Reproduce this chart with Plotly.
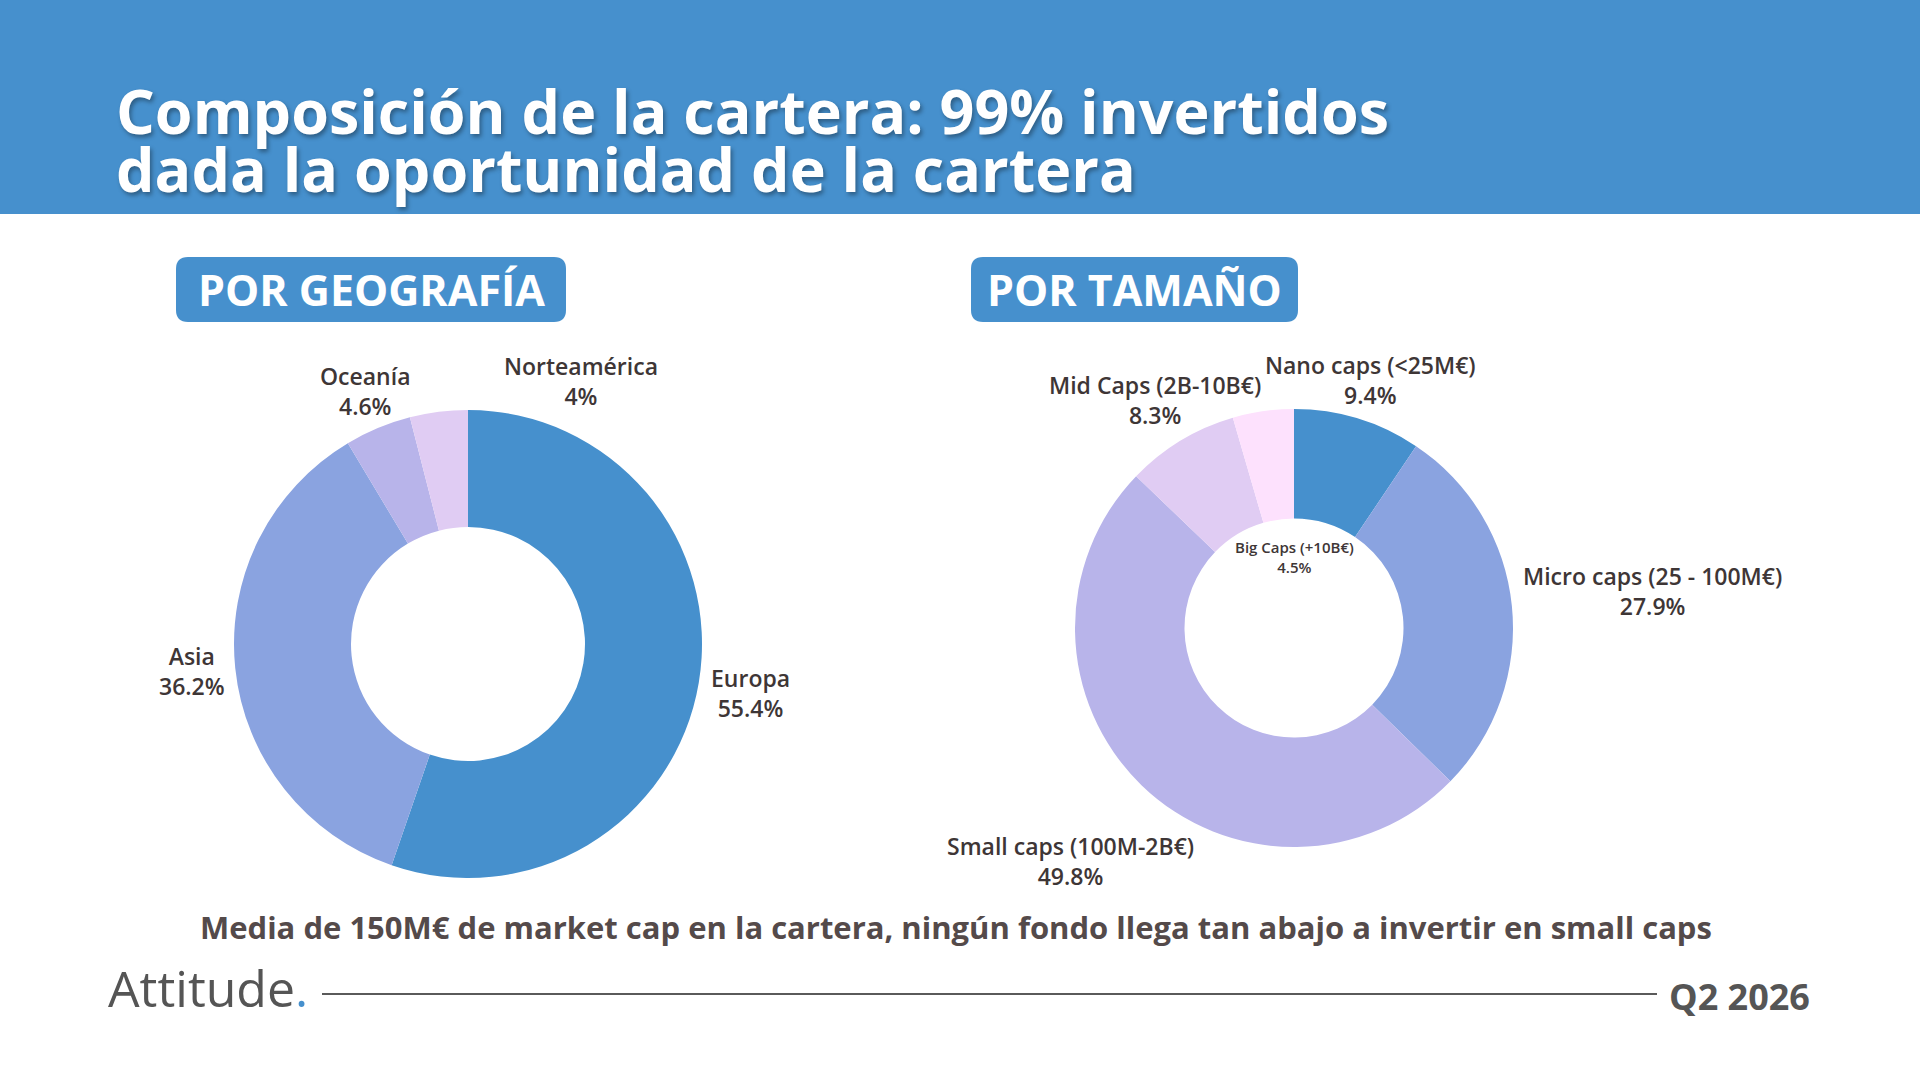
import plotly.graph_objects as go

# ---------------- data ----------------
geo_labels = ["Europa", "Asia", "Oceanía", "Norteamérica"]
geo_values = [55.4, 36.2, 4.6, 4.0]

size_labels = ["Nano caps (<25M€)", "Micro caps (25 - 100M€)", "Small caps (100M-2B€)",
               "Mid Caps (2B-10B€)", "Big Caps (+10B€)"]
size_values = [9.4, 27.9, 49.8, 8.3, 4.5]

title_lines = ["Composición de la cartera: 99% invertidos", "dada la oportunidad de la cartera"]
section_titles = ["POR GEOGRAFÍA", "POR TAMAÑO"]
footnote = "Media de 150M€ de market cap en la cartera, ningún fondo llega tan abajo a invertir en small caps"
brand = "Attitude"
period = "Q2 2026"

# ---------------- styles / positions ----------------
W, H = 1920, 1080
BLUE = "#4690CD"
geo_colors = ["#4690CD", "#8AA3E0", "#B8B4EA", "#E0CCF3"]
size_colors = ["#4690CD", "#8AA3E0", "#B8B4EA", "#E0CCF3", "#FDE1FD"]
TXT = "#3E3636"
FONT = "Open Sans"
LBL = 23

# label centre positions (pixel coords, centre of the two-line block)
geo_pos = [(750, 693), (192, 671), (365, 391), (581, 381)]
size_pos = [(1370, 380), (1652, 591), (1070, 861), (1155, 400), (1294, 557)]


def px(x):
    return x / W


def py(y):
    return 1 - y / H


def pct(v):
    return f"{v:g}%"


fig = go.Figure()

# left donut: center (468, 644), radius 234
cx, cy, r = 468, 644, 234
fig.add_trace(go.Pie(
    labels=geo_labels, values=geo_values, hole=0.5, sort=False, direction="clockwise",
    rotation=0, textinfo="none", hoverinfo="label+percent",
    marker=dict(colors=geo_colors, line=dict(width=0)),
    domain=dict(x=[px(cx - r), px(cx + r)], y=[py(cy + r), py(cy - r)]),
    showlegend=False,
))

# right donut: center (1294, 628), radius 219
cx, cy, r = 1294, 628, 219
fig.add_trace(go.Pie(
    labels=size_labels, values=size_values, hole=0.5, sort=False, direction="clockwise",
    rotation=0, textinfo="none", hoverinfo="label+percent",
    marker=dict(colors=size_colors, line=dict(width=0)),
    domain=dict(x=[px(cx - r), px(cx + r)], y=[py(cy + r), py(cy - r)]),
    showlegend=False,
))

shapes = []
annotations = []

# header band
shapes.append(dict(type="rect", xref="paper", yref="paper", x0=0, x1=1, y0=py(214), y1=1,
                   fillcolor=BLUE, line=dict(width=0), layer="below"))


def rounded_rect(x0, y0, x1, y1, rad):
    X = lambda v: px(v)
    Y = lambda v: py(v)
    p = (f"M {X(x0 + rad)} {Y(y0)} L {X(x1 - rad)} {Y(y0)} Q {X(x1)} {Y(y0)} {X(x1)} {Y(y0 + rad)} "
         f"L {X(x1)} {Y(y1 - rad)} Q {X(x1)} {Y(y1)} {X(x1 - rad)} {Y(y1)} "
         f"L {X(x0 + rad)} {Y(y1)} Q {X(x0)} {Y(y1)} {X(x0)} {Y(y1 - rad)} "
         f"L {X(x0)} {Y(y0 + rad)} Q {X(x0)} {Y(y0)} {X(x0 + rad)} {Y(y0)} Z")
    return dict(type="path", xref="paper", yref="paper", path=p, fillcolor=BLUE,
                line=dict(width=0), layer="below")


shapes.append(rounded_rect(176, 257, 566, 322, 12))
shapes.append(rounded_rect(971, 257, 1298, 322, 12))

# footer line
shapes.append(dict(type="line", xref="paper", yref="paper", x0=px(322), x1=px(1657),
                   y0=py(994), y1=py(994), line=dict(color="#5A5A5A", width=2)))

fig.update_layout(shapes=shapes)

# title
for line, yy in zip(title_lines, [110, 168]):
    annotations.append(dict(
        text=line, x=px(114), y=py(yy), xref="paper", yref="paper", xanchor="left", yanchor="middle",
        showarrow=False,
        font=dict(family=FONT, size=61, color="white", weight=700,
                  shadow="2px 3px 4px rgba(0,0,0,0.35)"),
    ))

# section titles
for t, (xx, yy) in zip(section_titles, [(371, 289), (1134, 289)]):
    annotations.append(dict(
        text=t, x=px(xx), y=py(yy), xref="paper", yref="paper", xanchor="center", yanchor="middle",
        showarrow=False, font=dict(family=FONT, size=43, color="white", weight=700),
    ))

# donut labels
for lab, val, (xx, yy) in zip(geo_labels, geo_values, geo_pos):
    annotations.append(dict(text=f"{lab}<br>{pct(val)}", x=px(xx), y=py(yy), xref="paper", yref="paper",
                            xanchor="center", yanchor="middle", align="center", showarrow=False,
                            font=dict(family=FONT, size=LBL, color=TXT, weight=600)))

for i, (lab, val, (xx, yy)) in enumerate(zip(size_labels, size_values, size_pos)):
    fs = 15 if i == 4 else LBL
    annotations.append(dict(text=f"{lab}<br>{pct(val)}", x=px(xx), y=py(yy), xref="paper", yref="paper",
                            xanchor="center", yanchor="middle", align="center", showarrow=False,
                            font=dict(family=FONT, size=fs, color=TXT, weight=600)))

# footnote
annotations.append(dict(text=footnote, x=px(956), y=py(927), xref="paper", yref="paper",
                        xanchor="center", yanchor="middle", showarrow=False,
                        font=dict(family=FONT, size=31, color="#544A4A", weight=700)))

# footer brand
annotations.append(dict(text=f"{brand}<span style='color:{BLUE}'>.</span>", x=px(106), y=py(988),
                        xref="paper", yref="paper", xanchor="left", yanchor="middle", showarrow=False,
                        font=dict(family=FONT, size=50, color="#555555", weight=400)))
annotations.append(dict(text=period, x=px(1812), y=py(996), xref="paper", yref="paper",
                        xanchor="right", yanchor="middle", showarrow=False,
                        font=dict(family=FONT, size=36, color="#555555", weight=700)))

fig.update_layout(
    annotations=annotations,
    width=W, height=H, margin=dict(l=0, r=0, t=0, b=0),
    paper_bgcolor="white", plot_bgcolor="white",
)

fig.write_html("out.html", config={"displayModeBar": False},
               post_script="document.body.style.margin='0';document.body.style.overflow='hidden';")
